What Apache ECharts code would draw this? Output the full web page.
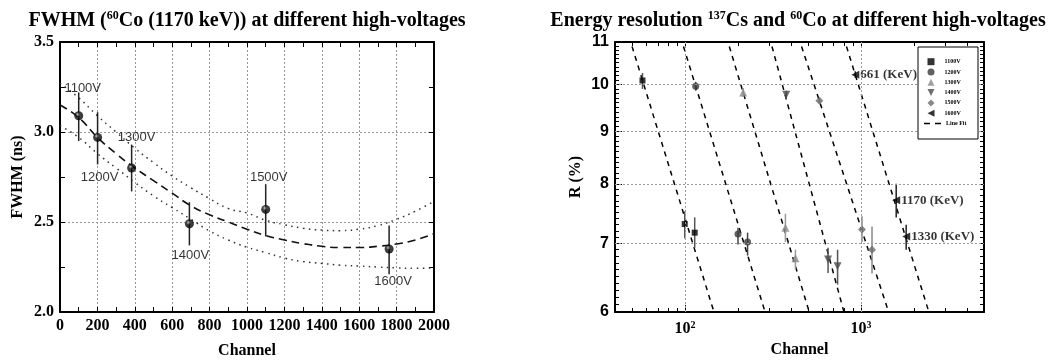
<!DOCTYPE html>
<html><head><meta charset="utf-8">
<script src="https://cdn.jsdelivr.net/npm/echarts@6/dist/echarts.min.js"></script>
<style>html,body{margin:0;padding:0;background:#fff}#c{width:1048px;height:362px}</style>
</head><body><div id="c"></div>
<script>
// ================= DATA: left panel (FWHM vs Channel) =================
const fwhmVoltages = ['1100V', '1200V', '1300V', '1400V', '1500V', '1600V'];
const fwhmChannels = [100, 201, 383, 692, 1100, 1760];
const fwhmValues   = [3.09, 2.97, 2.80, 2.49, 2.57, 2.35];
const fwhmErrLow   = [2.95, 2.82, 2.67, 2.37, 2.42, 2.21];
const fwhmErrHigh  = [3.22, 3.11, 2.93, 2.61, 2.71, 2.48];
const curveChannels = [0, 100, 200, 300, 400, 500, 600, 700, 800, 900, 1000, 1100, 1200, 1300, 1400, 1500, 1600, 1700, 1800, 1900, 2000];
const fitCurve   = [3.15, 3.08, 2.97, 2.88, 2.80, 2.73, 2.66, 2.59, 2.54, 2.50, 2.46, 2.425, 2.40, 2.38, 2.365, 2.358, 2.358, 2.365, 2.378, 2.40, 2.435];
const bandUpper  = [3.27, 3.19, 3.09, 3.00, 2.91, 2.83, 2.755, 2.69, 2.63, 2.575, 2.55, 2.51, 2.485, 2.465, 2.455, 2.452, 2.46, 2.48, 2.515, 2.56, 2.615];
const bandLower  = [3.035, 2.97, 2.88, 2.80, 2.72, 2.645, 2.58, 2.515, 2.45, 2.40, 2.36, 2.33, 2.30, 2.28, 2.27, 2.26, 2.255, 2.25, 2.245, 2.243, 2.245];

// ================= DATA: right panel (Energy resolution) =================
const resVoltages = ['1100V', '1200V', '1300V', '1400V', '1500V', '1600V'];
const fitLegendName = 'Line Fit';
const peakLabels  = ['661 (KeV)', '1170 (KeV)', '1330 (KeV)'];
const resChannels = [[57.3, 99.6, 113.5], [115, 200, 226.7], [214, 372, 424], [376, 650, 736], [580, 1013, 1155], [928, 1585, 1806]];
const resValues   = [[10.09, 7.31, 7.17], [9.96, 7.15, 7.02], [9.82, 7.25, 6.77], [9.77, 6.75, 6.65], [9.64, 7.22, 6.90], [10.22, 7.71, 7.11]];
const resErrLow   = [[9.90, 7.08, 6.93], [9.86, 6.98, 6.81], [9.72, 7.02, 6.60], [9.68, 6.55, 6.38], [9.58, 7.02, 6.54], [10.15, 7.42, 6.90]];
const resErrHigh  = [[10.26, 7.52, 7.42], [10.06, 7.25, 7.17], [9.92, 7.48, 6.90], [9.86, 6.93, 6.90], [9.70, 7.44, 7.27], [10.30, 8.00, 7.30]];
const fitLineStart = [[50.0, 10.89], [98, 10.89], [178.5, 10.89], [312, 10.89], [459.5, 10.89], [827, 10.89]];
const fitLineEnd   = [[146, 6.0], [285, 6.0], [508, 6.0], [800, 6.0], [1435, 6.0], [2430, 6.0]];
const resXLabels = [100, 1000];
const resXMinor  = [50, 60, 70, 80, 90, 200, 300, 400, 500, 600, 700, 800, 900, 2000, 3000, 4000];
const resYLabels = [6, 7, 8, 9, 10, 11];
const resXGrid = [100, 1000];
const resYGrid = [7, 8, 9, 10];

// ================= STYLE =================
const SERIF = '"Liberation Serif", "Times New Roman", serif';
const SANS = '"Liberation Sans", Arial, sans-serif';
const fwhmLabelOffsets = [[4, -27], [2, 40], [5, -31], [1, 32], [3, -32], [4, 32]];
const resColors = ['#000000', '#3a3a3a', '#8a8a8a', '#4a4a4a', '#6a6a6a', '#000000'];
const resErrColors = ['#555555', '#444444', '#9a9a9a', '#555555', '#888888', '#222222'];
const resSymbols = ['rect', 'circle', 'triangle', 'triangle', 'diamond', 'triangle'];
const resRotate = [0, 0, 0, 180, 0, 90];
const resSizes = [6, 7, 8, 8, 8, 8];
const resLegendIcons = ['rect', 'circle', 'triangle', 'path://M0,0L10,0L5,10Z', 'diamond', 'path://M10,0L10,10L0,5Z'];

const resYMinor = [];
for (let v = 60; v <= 110; v++) resYMinor.push(v / 10);

function errRender(color, width) {
  return function (params, api) {
    const x = api.value(0), lo = api.value(1), hi = api.value(2);
    const a = api.coord([x, lo]), b = api.coord([x, hi]);
    return { type: 'line', shape: { x1: a[0], y1: a[1], x2: b[0], y2: b[1] },
             style: { stroke: color, lineWidth: width } };
  };
}

const frameLine = { show: true, onZero: false, lineStyle: { color: '#000', width: 2 } };
const boldSerif = { color: '#000', fontFamily: SERIF, fontWeight: 'bold', fontSize: 16 };
const gridDot = { show: true, lineStyle: { color: '#999', type: [2, 2], width: 1 } };

const titleRich = {
  b: { fontFamily: SERIF, fontWeight: 'bold', fontSize: 20, color: '#000', lineHeight: 22 },
  s: { fontFamily: SERIF, fontWeight: 'bold', fontSize: 12, color: '#000', lineHeight: 12, verticalAlign: 'top' }
};

function leftXAxis(pos) {
  const main = pos === 'bottom';
  return {
    gridIndex: 0, type: 'value', position: pos, min: 0, max: 2000, interval: 200,
    axisLine: frameLine,
    axisTick: { show: true, inside: true, length: 5, lineStyle: { color: '#000', width: 1 } },
    minorTick: { show: true, splitNumber: 2, length: 5, lineStyle: { color: '#000', width: 1 } },
    axisLabel: { show: main, margin: 6, hideOverlap: false, formatter: v => String(v), ...boldSerif },
    splitLine: main ? gridDot : { show: false },
    name: main ? 'Channel' : '', nameLocation: 'middle', nameGap: 31, nameTextStyle: boldSerif
  };
}
function leftYAxis(pos) {
  const main = pos === 'left';
  return {
    gridIndex: 0, type: 'value', position: pos, min: 2, max: 3.5, interval: 0.5,
    axisLine: frameLine,
    axisTick: { show: true, inside: true, length: 5, lineStyle: { color: '#000', width: 1 } },
    minorTick: { show: true, splitNumber: 2, length: 5, lineStyle: { color: '#000', width: 1 } },
    axisLabel: { show: main, margin: 6, hideOverlap: false, formatter: v => v.toFixed(1), ...boldSerif },
    splitLine: main ? gridDot : { show: false },
    name: main ? 'FWHM (ns)' : '', nameLocation: 'middle', nameGap: 34, nameTextStyle: boldSerif
  };
}
function rightXAxis(pos) {
  const main = pos === 'bottom';
  return {
    gridIndex: 1, type: 'log', logBase: 10, position: pos, min: 40, max: 5000,
    axisLine: frameLine,
    axisTick: { show: true, inside: true, length: 4, customValues: resXMinor.concat(resXLabels), lineStyle: { color: '#000', width: 1 } },
    axisLabel: {
      show: main, margin: 8, hideOverlap: false, customValues: resXLabels,
      formatter: v => '{b|10}{s|' + Math.round(Math.log10(v)) + '}',
      rich: {
        b: { fontFamily: SERIF, fontWeight: 'bold', fontSize: 16, color: '#000', lineHeight: 18 },
        s: { fontFamily: SERIF, fontWeight: 'bold', fontSize: 10, color: '#000', lineHeight: 10, verticalAlign: 'top' }
      }
    },
    splitLine: { show: false },
    name: main ? 'Channel' : '', nameLocation: 'middle', nameGap: 26, nameTextStyle: boldSerif
  };
}
function rightYAxis(pos) {
  const main = pos === 'left';
  return {
    gridIndex: 1, type: 'log', logBase: 10, position: pos, min: 6, max: 11,
    axisLine: frameLine,
    axisTick: { show: true, inside: true, length: 4, customValues: resYMinor, lineStyle: { color: '#000', width: 1 } },
    axisLabel: { show: main, margin: 6, hideOverlap: false, customValues: resYLabels, formatter: v => String(Math.round(v)),
                 color: '#000', fontFamily: SANS, fontWeight: 'bold', fontSize: 16 },
    splitLine: { show: false },
    name: main ? 'R (%)' : '', nameLocation: 'middle', nameGap: 31, nameTextStyle: boldSerif
  };
}
// extra overlay axes carrying the longer major ticks on the right panel
const rightXMajorTicks = {
  gridIndex: 1, type: 'log', logBase: 10, position: 'bottom', min: 40, max: 5000,
  axisLine: { show: false }, axisLabel: { show: false }, splitLine: { show: false },
  axisTick: { show: true, inside: true, length: 7, customValues: resXLabels, lineStyle: { color: '#000', width: 1 } }
};
const rightYMajorTicks = {
  gridIndex: 1, type: 'log', logBase: 10, position: 'left', min: 6, max: 11,
  axisLine: { show: false }, axisLabel: { show: false }, splitLine: { show: false },
  axisTick: { show: true, inside: true, length: 7, customValues: resYLabels, lineStyle: { color: '#000', width: 1 } }
};

const series = [];
// ---- left panel ----
series.push({ type: 'line', name: 'upper', xAxisIndex: 0, yAxisIndex: 0, symbol: 'none', smooth: true, silent: true,
  data: curveChannels.map((c, i) => [c, bandUpper[i]]), lineStyle: { color: '#333', width: 1.5, type: [1.5, 4.5] }, z: 2 });
series.push({ type: 'line', name: 'lower', xAxisIndex: 0, yAxisIndex: 0, symbol: 'none', smooth: true, silent: true,
  data: curveChannels.map((c, i) => [c, bandLower[i]]), lineStyle: { color: '#333', width: 1.5, type: [1.5, 4.5] }, z: 2 });
series.push({ type: 'line', name: 'fit', xAxisIndex: 0, yAxisIndex: 0, symbol: 'none', smooth: true, silent: true,
  data: curveChannels.map((c, i) => [c, fitCurve[i]]), lineStyle: { color: '#111', width: 1.6, type: [8, 5] }, z: 3 });
series.push({ type: 'custom', name: 'fwhmErr', xAxisIndex: 0, yAxisIndex: 0, renderItem: errRender('#222', 1.5),
  encode: { x: 0, y: [1, 2] }, data: fwhmChannels.map((c, i) => [c, fwhmErrLow[i], fwhmErrHigh[i]]), z: 4, silent: true });
series.push({ type: 'scatter', name: 'FWHM', xAxisIndex: 0, yAxisIndex: 0, symbol: 'circle', symbolSize: 9,
  itemStyle: { color: { type: 'radial', x: 0.4, y: 0.35, r: 0.7, colorStops: [{ offset: 0, color: '#bbb' }, { offset: 0.35, color: '#111' }, { offset: 1, color: '#000' }] } },
  data: fwhmChannels.map((c, i) => ({ value: [c, fwhmValues[i]], label: { offset: fwhmLabelOffsets[i] } })),
  label: { show: true, position: 'inside', formatter: p => fwhmVoltages[p.dataIndex], color: '#000', fontFamily: SANS, fontSize: 13 },
  z: 5 });

// ---- right panel ----
series.push({ type: 'line', name: '_grid', xAxisIndex: 2, yAxisIndex: 2, data: [[100, 7]], symbol: 'none', silent: true,
  lineStyle: { opacity: 0 }, z: 1,
  markLine: { silent: true, symbol: 'none', animation: false, label: { show: false },
    lineStyle: { color: '#999', type: [2, 2], width: 1 },
    data: resXGrid.map(v => ({ xAxis: v })).concat(resYGrid.map(v => ({ yAxis: v }))) } });
fitLineStart.forEach((s, i) => {
  series.push({ type: 'line', name: fitLegendName, xAxisIndex: 2, yAxisIndex: 2, symbol: 'none', silent: true,
    data: [s, fitLineEnd[i]], lineStyle: { color: '#000', width: 1.5, type: [5, 5] }, itemStyle: { color: '#000' }, z: 2 });
});
resVoltages.forEach((v, k) => {
  series.push({ type: 'custom', name: v + ' err', xAxisIndex: 2, yAxisIndex: 2, renderItem: errRender(resErrColors[k], 1.5),
    encode: { x: 0, y: [1, 2] }, silent: true, z: 3,
    data: resChannels[k].map((c, i) => [c, resErrLow[k][i], resErrHigh[k][i]]) });
});
resVoltages.forEach((v, k) => {
  const s = { type: 'scatter', name: v, xAxisIndex: 2, yAxisIndex: 2, symbol: resSymbols[k], symbolRotate: resRotate[k],
    symbolSize: resSizes[k], itemStyle: { color: resColors[k] }, z: 4,
    data: resChannels[k].map((c, i) => [c, resValues[k][i]]) };
  if (k === resVoltages.length - 1) {
    s.label = { show: true, position: 'right', distance: 1, formatter: p => peakLabels[p.dataIndex],
                color: '#000', fontFamily: SERIF, fontWeight: 'bold', fontSize: 13 };
  }
  series.push(s);
});

const legendText = { fontFamily: SERIF, fontWeight: 'bold', fontSize: 6, color: '#000', lineHeight: 7 };
const option = {
  animation: false,
  backgroundColor: '#fff',
  title: [
    { text: '{b|FWHM (}{s|60}{b|Co (1170 keV)) at different high-voltages}', left: 242, top: 5, textAlign: 'center',
      textStyle: { rich: titleRich } },
    { text: '{b|Energy resolution }{s|137}{b|Cs and }{s|60}{b|Co at different high-voltages}', left: 793, top: 5, textAlign: 'center',
      textStyle: { rich: titleRich } }
  ],
  grid: [
    { left: 60, top: 42, width: 374, height: 270, outerBoundsMode: 'none', containLabel: false },
    { left: 615, top: 42, width: 369, height: 270, outerBoundsMode: 'none', containLabel: false }
  ],
  xAxis: [leftXAxis('bottom'), leftXAxis('top'), rightXAxis('bottom'), rightXAxis('top'), rightXMajorTicks],
  yAxis: [leftYAxis('left'), leftYAxis('right'), rightYAxis('left'), rightYAxis('right'), rightYMajorTicks],
  graphic: [
    { type: 'rect', left: 917.5, top: 46.5, z: 50, shape: { width: 60, height: 92 },
      style: { fill: '#fff', stroke: '#000', lineWidth: 1 } }
  ],
  legend: [
    { show: true, orient: 'vertical', left: 927.5, top: 58.2, z: 60, padding: 0, itemGap: 3.3,
      itemWidth: 7, itemHeight: 7, selectedMode: false,
      data: resVoltages.map((v, k) => ({ name: v, icon: resLegendIcons[k] })),
      textStyle: Object.assign({ padding: [0, 0, 0, 5] }, legendText) },
    { show: true, orient: 'vertical', left: 924, top: 120, z: 60, padding: 0,
      itemWidth: 17, itemHeight: 1.5, selectedMode: false,
      data: [{ name: fitLegendName, icon: 'path://M0,0H6V1.5H0Z M11,0H17V1.5H11Z' }],
      textStyle: legendText }
  ],
  series: series
};
const chart = echarts.init(document.getElementById('c'));
chart.setOption(option);
</script></body></html>
